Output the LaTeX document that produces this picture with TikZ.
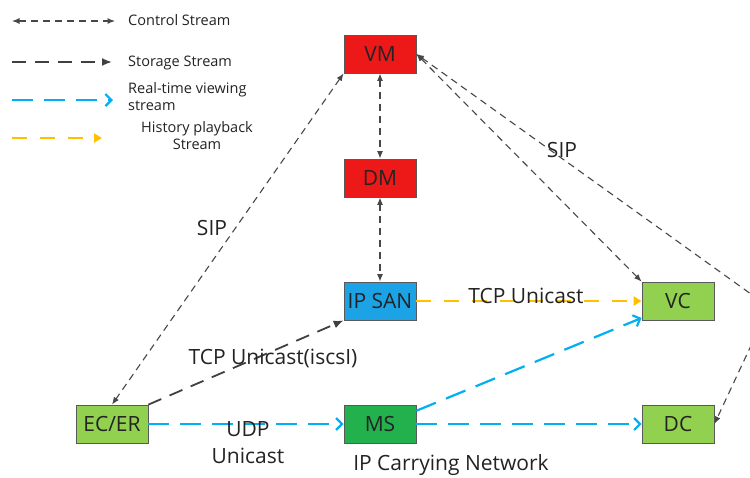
\documentclass[tikz,border=0pt]{standalone}
\usepackage{fontspec}
\setmainfont{Open Sans}
\usetikzlibrary{arrows.meta}
\definecolor{boxred}{RGB}{237,24,24}
\definecolor{boxblue}{RGB}{27,163,230}
\definecolor{boxgreen}{RGB}{146,208,80}
\definecolor{boxdkgreen}{RGB}{34,177,76}
\definecolor{liveblue}{RGB}{0,176,240}
\definecolor{historange}{RGB}{255,192,0}
\definecolor{txt}{RGB}{35,35,35}
\tikzset{
  box/.style={draw=black!65, line width=0.8pt, minimum width=72pt, minimum height=38pt,
    inner sep=0pt, font=\fontsize{21}{25}\selectfont, text=txt},
  ctrl/.style={draw=black!72, line width=1.1pt, dash pattern=on 7pt off 5pt,
    {Latex[length=7.5pt,width=6pt]}-{Latex[length=7.5pt,width=6pt]}},
  stor/.style={draw=black!75, line width=1.8pt, dash pattern=on 14pt off 9pt,
    -{Latex[length=10pt,width=8pt]}},
  live/.style={draw=liveblue, line width=2.2pt, dash pattern=on 21pt off 11pt,
    -{Straight Barb[length=6pt,width=12pt]}},
  hist/.style={draw=historange, line width=2.2pt, dash pattern=on 15pt off 13pt,
    -{Triangle[length=8pt,width=9pt]}},
  lbl/.style={font=\fontsize{21}{27}\selectfont, text=txt, inner sep=0pt},
  leg/.style={font=\fontsize{14.5}{17}\selectfont, text=txt, inner sep=0pt}
}
\begin{document}
\begin{tikzpicture}[x=1pt,y=-1pt]
\useasboundingbox (0,0) rectangle (750,477);
\fill[white] (0,0) rectangle (750,477);

% legend
\coordinate (l1a) at (12,21); \coordinate (l1b) at (115,21);
\coordinate (l2a) at (12,62); \coordinate (l2b) at (112,62);
\coordinate (l3a) at (12,100); \coordinate (l3b) at (113,100);
\coordinate (l4a) at (12,138); \coordinate (l4b) at (102,138);
\draw[ctrl] (l1a) -- (l1b);
\draw[stor] (l2a) -- (l2b);
\draw[live] (l3a) -- (l3b);
\draw[hist] (l4a) -- (l4b);
\node[leg, anchor=west] (t1) at (128,20) {Control Stream};
\node[leg, anchor=west] (t2) at (128,63) {Storage Stream};
\node[leg, anchor=west, align=left] (t3) at (128,97) {Real-time viewing\\stream};
\node[leg, align=center] (t4) at (197,136) {History playback\\Stream};

% nodes
\node[box, fill=boxred] (vm) at (380,54) {VM};
\node[box, fill=boxred] (dm) at (380,178) {DM};
\node[box, fill=boxblue] (san) at (380,301) {IP SAN};
\node[box, fill=boxgreen] (vc) at (678,301) {VC};
\node[box, fill=boxgreen] (dc) at (678,424) {DC};
\node[box, fill=boxdkgreen] (ms) at (380,424) {MS};
\node[box, fill=boxgreen] (ec) at (112,424) {EC/ER};

% connectors
\begin{scope}
\clip (0,0) rectangle (750,477);
\coordinate (wp) at (769,307);
\draw[ctrl] (vm.south west) -- (ec.north);
\draw[ctrl] (vm.south) -- (dm.north);
\draw[ctrl] (dm.south) -- (san.north);
\draw[ctrl] (vm.east) -- (vc.north west);
\draw[ctrl] (vm.east) -- (wp) -- (dc.east);
\draw[stor] (ec.north east) -- (san.south west);
\draw[live] (ec.east) -- (ms.west);
\draw[live] (ms.20) -- (vc.205);
\draw[live] (ms.east) -- (dc.west);
\draw[hist] (san.east) -- (vc.west);
\end{scope}

% labels
\node[lbl] (sip1) at (212,228) {SIP};
\node[lbl] (sip2) at (562,150) {SIP};
\node[lbl] (tcp2) at (273,358) {TCP Unicast(iscsI)};
\node[lbl] (tcp1) at (526,296) {TCP Unicast};
\node[lbl, align=center] (udp) at (248,443) {UDP\\Unicast};
\node[lbl] (ipn) at (451,465) {IP Carrying Network};
\end{tikzpicture}
\end{document}
